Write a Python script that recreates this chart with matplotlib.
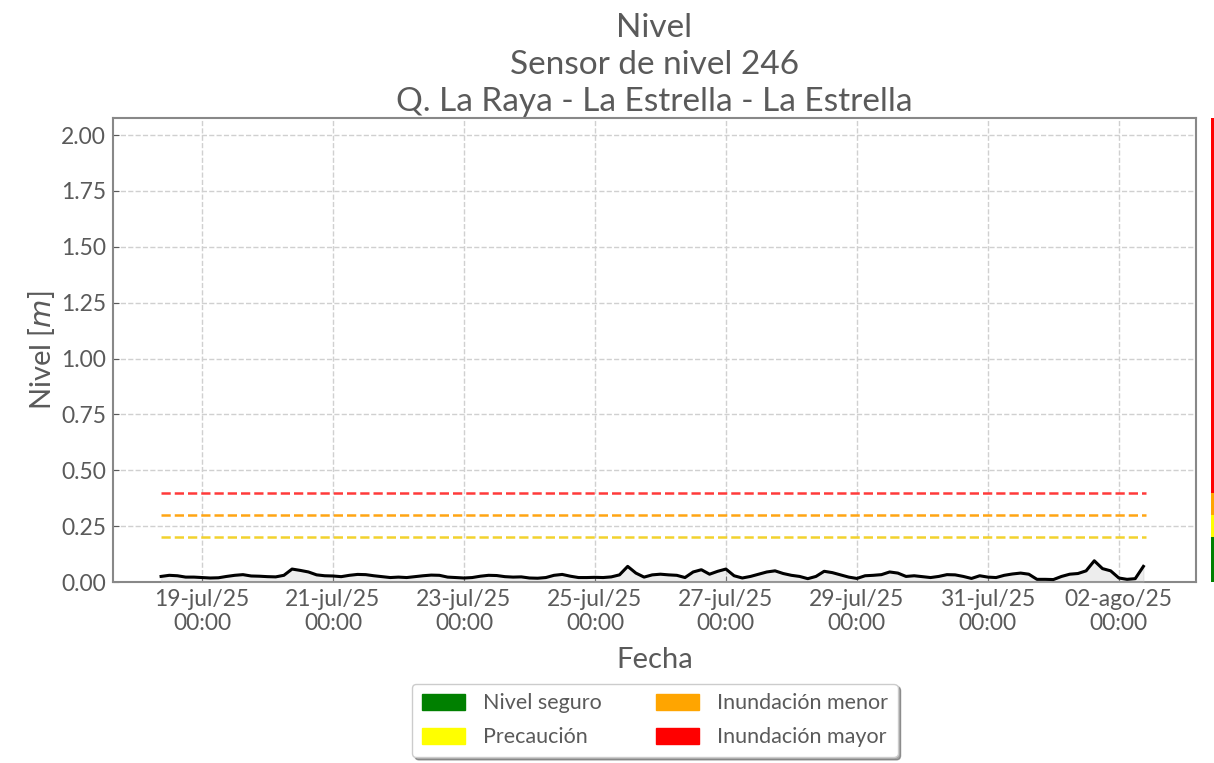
import numpy as np
import pandas as pd
import matplotlib
matplotlib.use('Agg')
import matplotlib.pyplot as plt
import matplotlib.dates as mdates
from matplotlib.patches import Patch
from matplotlib.ticker import FuncFormatter

plt.rcParams['font.family'] = ['Lato', 'DejaVu Sans']
gris = '#5a5a5a'

# serie de nivel cada 3 horas desde 18-jul-25 09:00
inicio = pd.Timestamp('2025-07-18 09:00')
nivel = [0.025, 0.030, 0.028, 0.022, 0.022, 0.020, 0.018, 0.019, 0.025, 0.030,
         0.033, 0.027, 0.026, 0.024, 0.023, 0.030, 0.058, 0.052, 0.045, 0.032,
         0.028, 0.027, 0.024, 0.030, 0.034, 0.033, 0.028, 0.024, 0.020, 0.022,
         0.020, 0.024, 0.028, 0.031, 0.030, 0.022, 0.020, 0.018, 0.020, 0.026,
         0.030, 0.029, 0.024, 0.022, 0.023, 0.018, 0.017, 0.020, 0.030, 0.034,
         0.026, 0.020, 0.020, 0.021, 0.020, 0.023, 0.032, 0.070, 0.040, 0.022,
         0.032, 0.035, 0.032, 0.030, 0.020, 0.045, 0.055, 0.035, 0.048, 0.058,
         0.028, 0.018, 0.025, 0.035, 0.045, 0.050, 0.038, 0.030, 0.025, 0.015,
         0.025, 0.048, 0.042, 0.032, 0.022, 0.016, 0.028, 0.030, 0.033, 0.045,
         0.040, 0.025, 0.028, 0.024, 0.020, 0.025, 0.033, 0.032, 0.025, 0.016,
         0.028, 0.022, 0.020, 0.030, 0.036, 0.040, 0.035, 0.012, 0.012, 0.011,
         0.025, 0.035, 0.038, 0.050, 0.095, 0.060, 0.050, 0.018, 0.012, 0.015,
         0.070]
fechas = pd.date_range(inicio, periods=len(nivel), freq='3h')

# umbrales
umbral_nombres = ['Precaución', 'Inundación menor', 'Inundación mayor']
umbral_valores = [0.20, 0.30, 0.40]
umbral_colores = ['#f2d22e', '#ffa514', '#ff3a3a']

leyenda_nombres = ['Nivel seguro', 'Precaución', 'Inundación menor', 'Inundación mayor']
leyenda_colores = ['green', 'yellow', 'orange', 'red']

meses = {7: 'jul', 8: 'ago'}

def fmt_fecha(x, pos):
    d = mdates.num2date(x)
    return '%02d-%s/%02d\n%02d:%02d' % (d.day, meses.get(d.month, ''), d.year % 100, d.hour, d.minute)

fig = plt.figure(figsize=(12.14, 7.63), dpi=100)
ax = fig.add_axes([0.0931, 0.2372, 0.8919, 0.6081])

ax.plot(fechas, nivel, color='black', lw=2.2, zorder=5)
ax.fill_between(fechas, 0, nivel, color='#bbbbbb', alpha=0.25, zorder=4)

for v, c in zip(umbral_valores, umbral_colores):
    ax.plot([fechas[0], pd.Timestamp('2025-08-02 10:00')], [v, v], ls='--', color=c, lw=1.8, zorder=3)

ax.set_xlim(pd.Timestamp('2025-07-17 15:23'), pd.Timestamp('2025-08-03 04:12'))
ax.set_ylim(0, 2.076)
ax.set_yticks(np.arange(0, 2.01, 0.25))
ax.yaxis.set_major_formatter(FuncFormatter(lambda y, p: '%.2f' % y))
ax.xaxis.set_major_locator(mdates.DayLocator(bymonthday=[19, 21, 23, 25, 27, 29, 31, 2]))
ax.xaxis.set_major_formatter(FuncFormatter(fmt_fecha))

ax.grid(True, ls='--', color='#d0d0d0', lw=1)
ax.set_axisbelow(True)
for s in ax.spines.values():
    s.set_color('#888888')
    s.set_linewidth(1.5)
ax.tick_params(colors=gris, labelsize=16.5, direction='in', length=4, pad=5)

ax.set_xlabel('Fecha', fontsize=21, color=gris, labelpad=9)
ax.set_ylabel('Nivel [$m$]', fontsize=21, color=gris, labelpad=3)
ax.set_title('Nivel\nSensor de nivel 246\nQ. La Raya - La Estrella - La Estrella',
             fontsize=24, color=gris, linespacing=1.3, pad=5)

# barra de colores a la derecha
axc = fig.add_axes([1211 / 1214, 0.2372, 0.004, 0.6081])
limites = [0] + umbral_valores + [2.076]
for i in range(4):
    axc.axhspan(limites[i], limites[i + 1], color=leyenda_colores[i], lw=0)
axc.set_ylim(0, 2.076)
axc.axis('off')

handles = [Patch(facecolor=c, edgecolor=c) for c in leyenda_colores]
leg = fig.legend(handles, leyenda_nombres, ncol=2, loc='upper center',
                 bbox_to_anchor=(0.5395, 0.118), fontsize=15.5, frameon=True,
                 shadow=True, fancybox=True, handlelength=2.0, handleheight=0.8,
                 handletextpad=0.85, columnspacing=2.5, borderpad=0.45,
                 labelspacing=0.65)
for t in leg.get_texts():
    t.set_color(gris)

fig.savefig('out.png', dpi=100)
